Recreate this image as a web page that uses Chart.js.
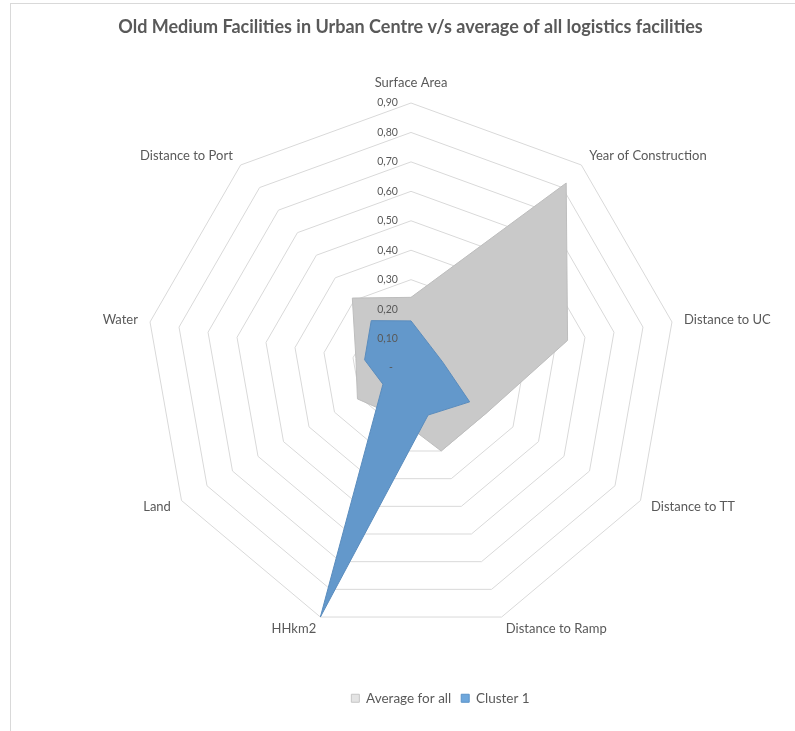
<!DOCTYPE html>
<html>
<head>
<meta charset="utf-8">
<script src="https://cdn.jsdelivr.net/npm/chart.js@4.4.1/dist/chart.umd.min.js"></script>
<style>
  html, body { margin: 0; padding: 0; background: #ffffff; }
  #frame { position: absolute; left: 10px; top: 3px; width: 800px; height: 740px;
           border-left: 1px solid #d9d9d9; border-top: 1px solid #d9d9d9; }
  #wrap { position: absolute; left: 0; top: 0; width: 795px; height: 731px; }
</style>
</head>
<body>
<div id="frame"></div>
<div id="wrap"><canvas id="chart" width="795" height="731"></canvas></div>
<script>
// ---- data ----
const categories = ['Surface Area', 'Year of Construction', 'Distance to UC', 'Distance to TT',
                    'Distance to Ramp', 'HHkm2', 'Land', 'Water', 'Distance to Port'];
const averageForAll = [0.24, 0.82, 0.54, 0.30, 0.30, 0.17, 0.21, 0.19, 0.31];
const cluster1      = [0.16, 0.10, 0.11, 0.23, 0.17, 0.90, 0.11, 0.16, 0.21];
const seriesNames   = ['Average for all', 'Cluster 1'];
const tickLabels    = ['-', '0,10', '0,20', '0,30', '0,40', '0,50', '0,60', '0,70', '0,80', '0,90'];
const scaleMin = 0, scaleMax = 0.9, scaleStep = 0.1;

// ---- layout / style ----
const GEOM = { x: 411, y: 368, r: 265 };
const TICK_SHIFT_X = -23.5;
const TEXT = '#595959';
const FONT = 'Lato, "Open Sans", "Noto Sans", sans-serif';
const LEGEND_SHIFT_X = 43;
const TITLE_SHIFT_X = 13;

class ExcelRadialScale extends Chart.RadialLinearScale {
  setCenterPoint(l, r, t, b) {
    super.setCenterPoint(l, r, t, b);
    this.xCenter = GEOM.x;
    this.yCenter = GEOM.y;
    this.drawingArea = GEOM.r;
  }
  fit() {
    super.fit();
    // Excel centres side labels vertically on their anchor point
    const items = this._pointLabelItems || [];
    const n = items.length;
    items.forEach((it, i) => {
      const ang = Math.round((360 / n) * i);
      const h = it.bottom - it.top;
      let dy = 0;
      if (ang === 0 || ang === 180 || ang === 90 || ang === 270) dy = 0;
      else if (ang > 270 || ang < 90) dy = h / 2;
      else dy = -h / 2;
      it.y += dy; it.top += dy; it.bottom += dy;
    });
  }
  drawLabels() {
    const ctx = this.ctx;
    ctx.save();
    ctx.translate(TICK_SHIFT_X, 0);
    super.drawLabels();
    // zero tick label (skipped by Chart.js)
    const f = this.options.ticks.font;
    ctx.font = `${f.size}px ${f.family}`;
    ctx.fillStyle = this.options.ticks.color;
    ctx.textAlign = 'center';
    ctx.textBaseline = 'middle';
    ctx.fillText(tickLabels[0], this.xCenter + 3.5, this.getDistanceFromCenterForValue(scaleMin) + this.yCenter);
    ctx.restore();
  }
}
ExcelRadialScale.id = 'excelRadial';
ExcelRadialScale.defaults = Chart.RadialLinearScale.defaults;
Chart.register(ExcelRadialScale);

const legendColors = [
  { fill: '#e4e4e4', stroke: '#c6c6c6' },
  { fill: '#6ea7dc', stroke: '#5b93c8' }
];

const shiftBoxes = {
  id: 'shiftBoxes',
  afterLayout(chart) {
    if (chart.legend) { chart.legend.left += LEGEND_SHIFT_X; chart.legend.right += LEGEND_SHIFT_X; }
    if (chart.titleBlock) { chart.titleBlock.left += TITLE_SHIFT_X; chart.titleBlock.right += TITLE_SHIFT_X; }
  }
};

new Chart(document.getElementById('chart'), {
  type: 'radar',
  data: {
    labels: categories,
    datasets: [
      { label: seriesNames[0], data: averageForAll, order: 1,
        backgroundColor: '#c9c9c9', borderColor: '#bdbdbd', borderWidth: 1, fill: true,
        pointRadius: 0, pointHoverRadius: 0 },
      { label: seriesNames[1], data: cluster1, order: 0,
        backgroundColor: '#6398cb', borderColor: '#5a8cbd', borderWidth: 1, fill: true,
        pointRadius: 0, pointHoverRadius: 0 }
    ]
  },
  options: {
    responsive: false,
    animation: false,
    elements: { line: { tension: 0 } },
    layout: { padding: { top: 0, bottom: 16, left: 0, right: 0 } },
    plugins: {
      title: {
        display: true,
        text: 'Old Medium Facilities in Urban Centre v/s average of all logistics facilities',
        color: TEXT,
        font: { family: FONT, size: 18, weight: 'bold' },
        padding: { top: 16, bottom: 10 }
      },
      legend: {
        position: 'bottom',
        labels: {
          color: TEXT,
          font: { family: FONT, size: 13.5 },
          boxWidth: 8, boxHeight: 8, padding: 10,
          sort: (a, b) => a.datasetIndex - b.datasetIndex,
          generateLabels: (chart) => {
            const items = Chart.defaults.plugins.legend.labels.generateLabels(chart);
            items.forEach(it => {
              const c = legendColors[it.datasetIndex];
              it.fillStyle = c.fill; it.strokeStyle = c.stroke; it.lineWidth = 1;
            });
            return items;
          }
        }
      },
      tooltip: { enabled: false }
    },
    scales: {
      r: {
        type: 'excelRadial',
        min: scaleMin, max: scaleMax,
        angleLines: { display: false },
        grid: { color: '#d9d9d9', lineWidth: 1 },
        ticks: {
          z: 1,
          stepSize: scaleStep,
          showLabelBackdrop: false,
          color: TEXT,
          font: { family: FONT, size: 10.5 },
          callback: (v, i) => tickLabels[i]
        },
        pointLabels: {
          color: TEXT,
          font: { family: FONT, size: 13 },
          padding: 5
        }
      }
    }
  },
  plugins: [shiftBoxes]
});
</script>
</body>
</html>
